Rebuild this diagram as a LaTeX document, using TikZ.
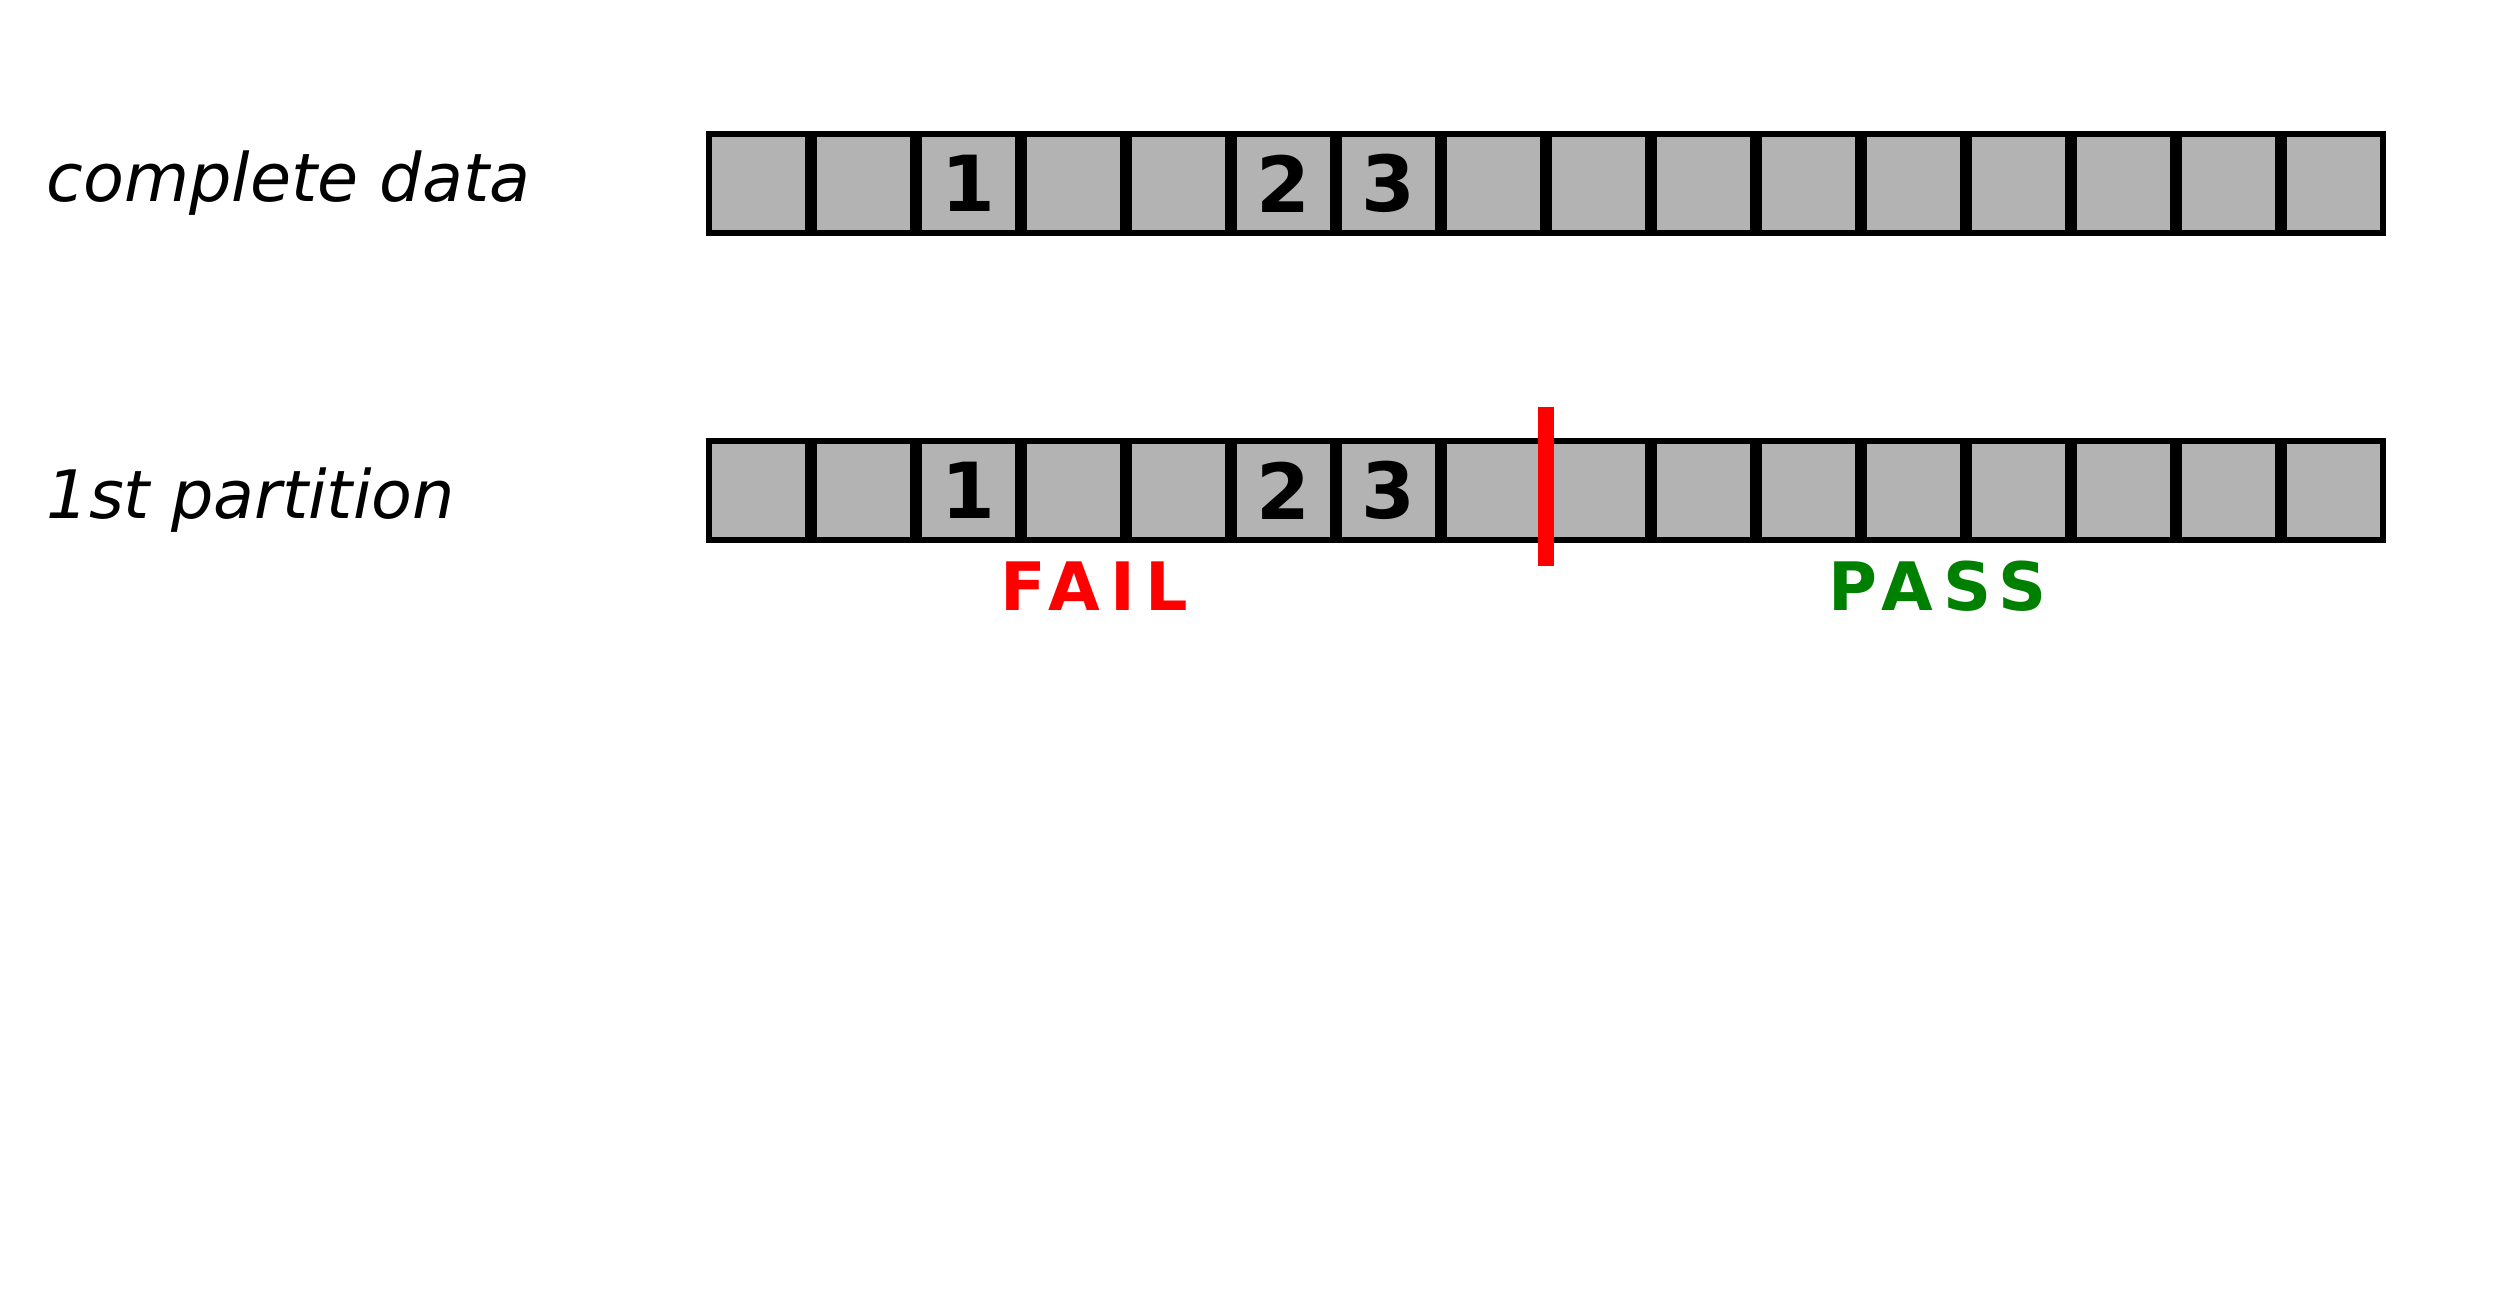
\documentclass[tikz,border=0pt]{standalone}
\usepackage{fontspec}
\setmainfont{DejaVu Sans}
\newfontfamily\spacedfont[LetterSpace=15]{DejaVu Sans}
\usepackage{tikz}
\definecolor{cellgray}{HTML}{B3B3B3}
\definecolor{passgreen}{HTML}{008000}
\tikzstyle{cell} = [draw=black,fill=cellgray,line width=0.06cm,minimum size=0.99cm,inner sep=0]
\tikzstyle{digit} = [inner sep=0,font=\fontsize{22}{26}\selectfont\bfseries]
\tikzstyle{rowlabel} = [inner sep=0,anchor=base west,font=\fontsize{19}{23}\selectfont\itshape]
\tikzstyle{verdict} = [inner sep=0,anchor=base west,font=\fontsize{19}{23}\selectfont\spacedfont\bfseries]

\begin{document}
\begin{tikzpicture}[cut/.style={draw=red,line width=0.16cm}]
    \useasboundingbox (0,0) rectangle (25,13.14);

    \node[rowlabel] (complete) at (0.46,11.12) {complete data};
    \node[rowlabel] (partition) at (0.46,7.95) {1st partition};

    \foreach \i in {0,...,15} {
        \node[cell] (c\i) at (7.585+1.05*\i,11.305) {};
        \node[cell] (p\i) at (7.585+1.05*\i,8.235) {};
    }
    \foreach \i/\n in {2/1,5/2,6/3} {
        \node[digit] (cn\n) at (c\i) {\n};
        \node[digit] (pn\n) at (p\i) {\n};
    }

    \coordinate (cuttop) at (15.46,9.07);
    \coordinate (cutbot) at (15.46,7.48);
    \draw[cut] (cuttop) -- (cutbot);

    \node[verdict,text=red] (fail) at (10.0,7.033) {FAIL};
    \node[verdict,text=passgreen] (pass) at (18.28,7.033) {PASS};
\end{tikzpicture}
\end{document}
